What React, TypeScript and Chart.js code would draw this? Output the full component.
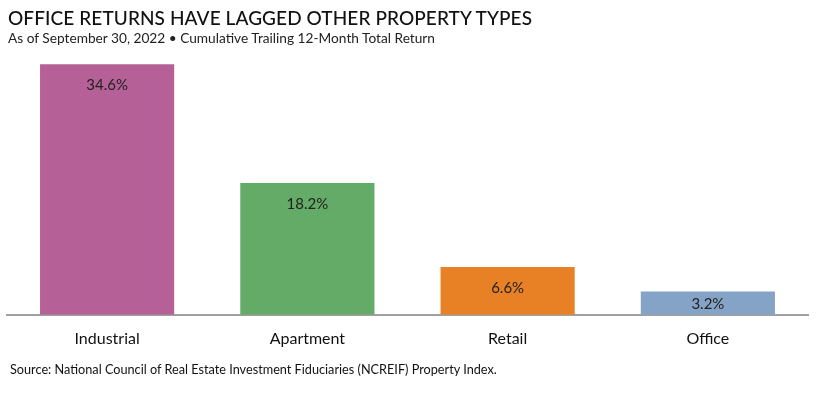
import React, { useEffect, useRef } from "react";
import { Chart, registerables } from "chart.js";

Chart.register(...registerables);

const categories = ["Industrial", "Apartment", "Retail", "Office"];
const returns = [34.6, 18.2, 6.6, 3.2];
const barColors = ["#b56096", "#63ab66", "#e88125", "#85a3c6"];
const titleText = "OFFICE RETURNS HAVE LAGGED OTHER PROPERTY TYPES";
const subtitleText = "As of September 30, 2022 \u2022 Cumulative Trailing 12-Month Total Return";
const sourceText = "Source: National Council of Real Estate Investment Fiduciaries (NCREIF) Property Index.";

const valueLabels = {
  id: "valueLabels",
  afterDatasetsDraw(chart: any) {
    const ctx = chart.ctx;
    const meta = chart.getDatasetMeta(0);
    ctx.save();
    ctx.font = "15px Lato, 'Open Sans', sans-serif";
    ctx.fillStyle = "#222";
    ctx.textAlign = "center";
    ctx.textBaseline = "middle";
    meta.data.forEach((bar: any, i: number) => {
      const y = Math.min(bar.y + 21, (bar.y + bar.base) / 2 + 1);
      ctx.fillText(returns[i].toFixed(1) + "%", bar.x, y);
    });
    ctx.restore();
  },
};

export default function App() {
  const ref = useRef<HTMLCanvasElement>(null);
  useEffect(() => {
    const chart = new Chart(ref.current!, {
      type: "bar",
      data: {
        labels: categories,
        datasets: [
          {
            data: returns,
            backgroundColor: barColors,
            barPercentage: 0.67,
            categoryPercentage: 1,
          },
        ],
      },
      options: {
        animation: false,
        responsive: false,
        maintainAspectRatio: false,
        layout: { padding: { left: 7, right: 21, top: 54, bottom: 37 } },
        plugins: { legend: { display: false }, tooltip: { enabled: false } },
        scales: {
          x: {
            grid: { display: false, drawTicks: false },
            border: { color: "#a0a0a0", width: 2 },
            ticks: {
              color: "#111",
              font: { family: "Lato, 'Open Sans', sans-serif", size: 16 },
              padding: 14,
            },
          },
          y: { display: false, min: 0, max: 36 },
        },
      },
      plugins: [valueLabels],
    });
    return () => chart.destroy();
  }, []);
  return (
    <div style={{ position: "fixed", left: 0, top: 0, width: 829, height: 399, background: "#fff", overflow: "hidden" }}>
      <canvas ref={ref} width={829} height={399} style={{ position: "absolute", left: 0, top: 0 }} />
      <div style={{ position: "absolute", left: 8, top: 6, fontFamily: "Lato, sans-serif", fontSize: 19, fontWeight: 500, color: "#111", whiteSpace: "nowrap", letterSpacing: 0.1 }}>
        {titleText}
      </div>
      <div style={{ position: "absolute", left: 8, top: 29, fontFamily: "Lato, sans-serif", fontSize: 13.7, color: "#222", whiteSpace: "nowrap" }}>
        {subtitleText}
      </div>
      <div style={{ position: "absolute", left: 10, top: 361, fontFamily: "Lato, sans-serif", fontSize: 12.7, color: "#111", whiteSpace: "nowrap" }}>
        {sourceText}
      </div>
    </div>
  );
}
